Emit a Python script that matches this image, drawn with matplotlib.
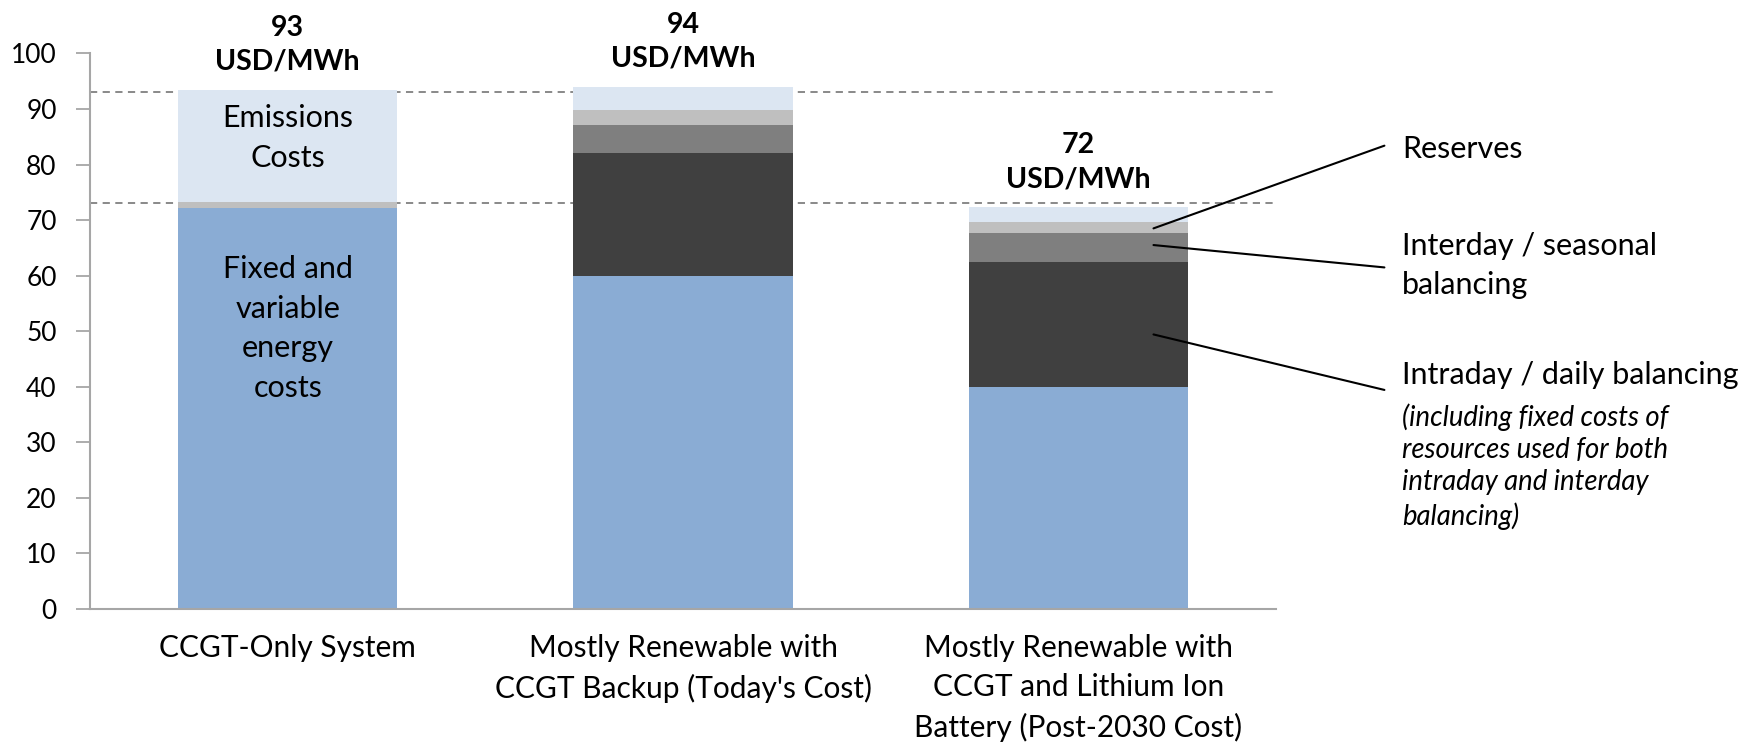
import matplotlib.pyplot as plt

plt.rcParams['font.family'] = ['Lato', 'DejaVu Sans']

# Cost components (USD/MWh) for each system
systems = ["CCGT-Only System",
           "Mostly Renewable with\nCCGT Backup (Today's Cost)",
           "Mostly Renewable with\nCCGT and Lithium Ion\nBattery (Post-2030 Cost)"]
energy = [72.2, 60.0, 40.0]
intraday = [0.0, 22.0, 22.4]
interday = [0.0, 5.2, 5.2]
reserves = [1.1, 2.7, 2.0]
emissions = [20.1, 4.1, 2.7]
totals = [93, 94, 72]
ref_lines = [93, 73]

colors = ["#8aacd4", "#404040", "#7f7f7f", "#bfbfbf", "#dce6f2"]

fig = plt.figure(figsize=(17.48, 7.47), dpi=100)
ax = fig.add_axes([0.0515, 0.1851, 0.6785, 0.7433])

x = list(range(len(systems)))
bottom = [0.0] * len(x)
for vals, c in zip([energy, intraday, interday, reserves, emissions], colors):
    ax.bar(x, vals, width=0.555, bottom=bottom, color=c, zorder=2)
    bottom = [b + v for b, v in zip(bottom, vals)]

for y in ref_lines:
    ax.axhline(y, color="#808080", linestyle=(0, (4, 3)), linewidth=1.3, zorder=1)

# total labels above each bar
for xi, top, t in zip(x, bottom, totals):
    ax.annotate(f"{t}\nUSD/MWh", xy=(xi, top), xytext=(0, 11), textcoords="offset points",
                ha="center", va="bottom", fontsize=20.5, fontweight="bold", linespacing=1.38)

# labels inside first bar
ax.text(0, 84.8, "Emissions\nCosts", ha="center", va="center", fontsize=22, linespacing=1.5)
ax.text(0, 50.5, "Fixed and\nvariable\nenergy\ncosts", ha="center", va="center",
        fontsize=22, linespacing=1.5)

ax.set_xlim(-0.5, 2.5)
ax.set_ylim(0, 100)
ax.set_yticks(range(0, 101, 10))
ax.set_xticks(x)
ax.set_xticklabels(systems, fontsize=21.5, linespacing=1.5)
ax.tick_params(axis="y", labelsize=19, length=10, width=1.3, color="#a6a6a6", pad=14)
ax.tick_params(axis="x", length=0, pad=18)
for s in ["top", "right"]:
    ax.spines[s].set_visible(False)
for s in ["left", "bottom"]:
    ax.spines[s].set_color("#a6a6a6")
    ax.spines[s].set_linewidth(1.5)

# callouts on the third bar
callouts = [(68.5, 0.805), (65.5, 0.642), (49.4, 0.478)]
for y0, fy in callouts:
    ax.annotate("", xy=(2.19, y0), xycoords="data", xytext=(0.792, fy),
                textcoords="figure fraction",
                arrowprops=dict(arrowstyle="-", color="black", linewidth=1.5, shrinkA=0, shrinkB=0))

fig.text(0.802, 0.800, "Reserves", ha="left", va="center", fontsize=22)
fig.text(0.802, 0.645, "Interday / seasonal\nbalancing", ha="left", va="center",
         fontsize=22, linespacing=1.47)
fig.text(0.802, 0.4985, "Intraday / daily balancing", ha="left", va="center", fontsize=22)
fig.text(0.802, 0.3755, "(including fixed costs of\nresources used for both\nintraday and interday\nbalancing)",
         ha="left", va="center", fontsize=19.8, style="italic", linespacing=1.3)

fig.savefig("out.png", dpi=100)
